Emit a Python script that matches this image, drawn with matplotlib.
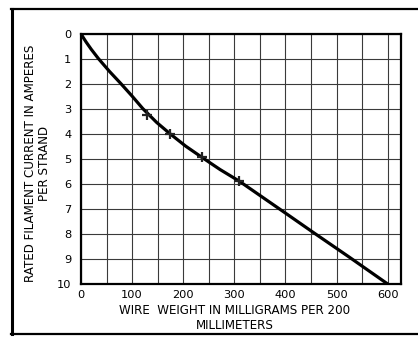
import matplotlib
matplotlib.use("Agg")
import matplotlib.pyplot as plt
from matplotlib.lines import Line2D
import numpy as np

# curve (wire weight mg per 200 mm vs rated current A per strand)
curve_weight = [0, 4, 10, 20, 34, 56, 78, 100, 121, 148, 174, 205, 237, 272, 310, 400, 450, 525, 600]
curve_current = [0, 0.15, 0.34, 0.63, 1.0, 1.52, 2.0, 2.5, 3.0, 3.55, 4.0, 4.5, 4.95, 5.43, 5.9, 7.17, 7.88, 8.93, 10.0]

# "+" marked points
mark_weight = [130, 174, 237, 310]
mark_current = [3.27, 4.0, 4.95, 5.9]

x_ticks = [0, 100, 200, 300, 400, 500, 600]
y_ticks = [0, 1, 2, 3, 4, 5, 6, 7, 8, 9, 10]

x_label = "WIRE  WEIGHT IN MILLIGRAMS PER 200\nMILLIMETERS"
y_label = "RATED FILAMENT CURRENT IN AMPERES\nPER STRAND"

fig = plt.figure(figsize=(4.18, 3.37), dpi=100)
ax = fig.add_axes([81/418, 53/337, 320/418, 250.5/337])

ax.plot(curve_weight, curve_current, color="black", lw=2.3, solid_capstyle="round", zorder=3)
ax.plot(mark_weight, mark_current, linestyle="none", marker="+", color="#222222",
        markersize=7, mew=1.6, zorder=4)

ax.set_xlim(0, 626)
ax.set_ylim(10, 0)
ax.set_xticks(x_ticks)
ax.set_xticks(np.arange(50, 626, 100), minor=True)
ax.set_yticks(y_ticks)
ax.set_xticklabels([str(v) for v in x_ticks])
ax.set_yticklabels([str(v) for v in y_ticks])
ax.tick_params(axis="both", which="both", length=0, labelsize=8.2)
ax.tick_params(axis="x", pad=4)
ax.tick_params(axis="y", pad=7)
ax.grid(True, which="both", color="#3a3a3a", lw=0.8)
ax.set_axisbelow(True)
for s in ax.spines.values():
    s.set_linewidth(1.6)
    s.set_color("black")

ax.set_xlabel(x_label, fontsize=8.6, linespacing=1.2)
ax.xaxis.set_label_coords(300/626, -0.08, transform=ax.transAxes)
ax.xaxis.label.set_verticalalignment("top")
ax.set_ylabel(y_label, fontsize=8.6, linespacing=1.15)
ax.yaxis.label.set_verticalalignment("center")
ax.yaxis.set_label_coords(-0.136, 0.48)

# outer frame (left, top, bottom)
W, H = 418, 337
def fl(x0, y0, x1, y1, lw):
    fig.add_artist(Line2D([x0/W, x1/W], [1-y0/H, 1-y1/H], color="black", lw=lw,
                          transform=fig.transFigure))
fl(11.5, 9, 11.5, 334, 2.2)
fl(10.5, 9, 418, 9, 1.6)
fl(10.5, 334, 418, 334, 1.6)

fig.savefig("out.png", dpi=100)
